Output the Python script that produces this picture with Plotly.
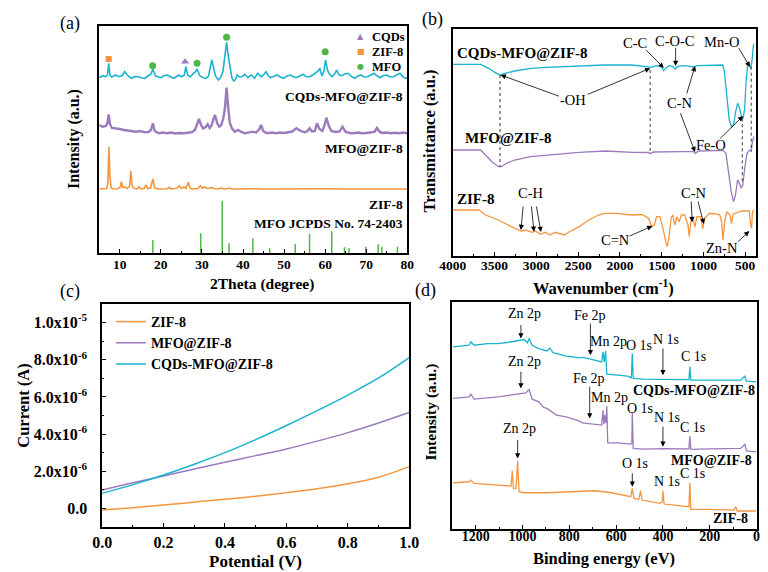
import plotly.graph_objects as go

SERIF = "Liberation Serif"
CYAN = "#1AB3CF"
PURPLE = "#9B7BBE"
ORANGE = "#F5953F"
GREEN = "#4DB848"

# ---------------- (a) XRD ----------------
xrd_2theta_cqds = [5.0, 5.9, 6.6, 7.0, 7.3, 7.6, 8.0, 9.0, 9.8, 10.6, 11.2, 11.8, 12.4, 12.9, 13.6, 14.5, 15.3, 16.1, 16.8, 17.5,
                   18.05, 18.7, 19.4, 20.0, 20.8, 21.6, 22.4, 23.2, 23.8, 24.3, 25.1, 25.7, 26.1, 26.5, 27.2, 27.9, 28.4, 28.8,
                   29.4, 29.8, 30.4, 31.0, 31.6, 32.0, 32.4, 32.8, 33.3, 34.0, 34.6, 35.1, 35.6, 36.0, 36.4, 36.8, 37.3, 37.7,
                   38.1, 38.6, 39.1, 39.7, 40.5, 41.2, 42.0, 42.8, 43.6, 44.4, 45.0, 45.6, 46.2, 46.7, 47.5, 48.3, 49.1, 49.9,
                   50.7, 51.5, 52.2, 53.0, 53.8, 54.6, 55.4, 56.2, 57.0, 57.7, 58.3, 58.7, 59.2, 59.7, 60.1, 60.5, 60.9, 61.7,
                   62.3, 62.8, 63.4, 64.0, 64.8, 65.6, 66.4, 67.2, 68.0, 68.7, 69.5, 70.3, 71.1, 71.9, 72.7, 73.4, 74.2, 75.0,
                   75.8, 76.6, 77.4, 78.2, 79.0, 79.7, 80.0]
xrd_int_cqds = [175.3, 177.3, 176.3, 178, 189.7, 178, 176, 178, 176.3, 177.5, 181.3, 178, 176, 174.7, 176.5, 176.3, 175, 174.7, 177, 178.5,
                183.7, 177, 176, 175.3, 177.5, 178, 176, 174.7, 176.5, 178, 176.3, 178, 186.3, 178, 176, 179.7, 181, 184,
                178, 176.3, 175, 174.7, 177, 184, 193, 186, 177, 173, 176, 181.3, 195, 210.7, 197, 185, 175, 172,
                173, 178, 176, 176.3, 178.7, 175.3, 178, 174.7, 179.7, 176.3, 178, 181.3, 177, 175.3, 177, 178, 176, 174.7,
                177, 178, 176.5, 175.3, 177, 178.7, 176.3, 176.3, 178, 179.7, 182, 184.7, 177, 182, 193, 184, 179.7, 176.3,
                179, 183, 178, 177.3, 179, 179.7, 176.5, 174.7, 177, 178, 176, 176.3, 178, 179.7, 177, 175.3, 177.5, 178,
                176, 176.3, 178, 179.7, 176, 174.7, 175]

xrd_2theta_mfo = [5.0, 5.8, 6.6, 7.0, 7.3, 7.6, 8.1, 9.0, 10.0, 11.0, 12.0, 13.0, 14.0, 15.0, 16.0, 17.0, 17.6, 18.05, 18.5, 19.5,
                  20.5, 21.5, 22.5, 23.5, 24.5, 25.5, 26.5, 27.5, 28.3, 28.8, 29.3, 29.8, 30.3, 30.9, 31.4, 31.9, 32.4, 32.8,
                  33.2, 33.7, 34.2, 34.7, 35.2, 35.6, 36.0, 36.4, 36.8, 37.3, 38.0, 38.8, 39.6, 40.5, 41.5, 42.3, 43.2, 44.0,
                  44.4, 44.9, 45.8, 47.0, 48.0, 49.0, 50.0, 51.0, 52.0, 53.0, 54.0, 55.0, 55.7, 56.2, 56.8, 57.5, 58.0, 58.6,
                  59.3, 59.8, 60.3, 60.8, 61.5, 62.5, 63.5, 64.2, 65.0, 66.0, 67.0, 68.0, 69.0, 70.0, 71.0, 72.0, 72.6, 73.3,
                  74.0, 75.0, 76.0, 77.0, 78.0, 79.0, 80.0]
xrd_int_mfo = [128, 126.3, 127, 130, 138.7, 129, 125, 124.7, 124, 123, 122.5, 122, 121.3, 122, 120.7, 121, 123, 129.7, 122, 119.7,
               120.5, 119.7, 120.5, 119.5, 120, 119.7, 120.5, 120.7, 123, 128, 134, 128, 124.7, 126, 128.7, 125, 128, 134,
               138, 130, 126.3, 128, 134.7, 145, 165.3, 145, 130, 124.7, 121.3, 123, 121, 119.7, 120.5, 121.3, 120.5, 124,
               128, 122, 119.7, 120.5, 119.7, 120.5, 120, 121, 121.5, 124.7, 122, 120.7, 122, 124.7, 121.5, 122, 129.7, 124,
               122, 127, 135.3, 128, 122, 121, 121.5, 126.3, 121, 120, 119.7, 120.5, 119.7, 120, 120.5, 121, 125, 121,
               120, 120.5, 119.7, 120.3, 119.7, 120.5, 119.7]

xrd_2theta_zif = [5.0, 6.0, 6.8, 7.1, 7.35, 7.6, 7.9, 8.5, 9.5, 10.1, 10.4, 10.7, 11.2, 11.8, 12.4, 12.7, 13.0, 13.6, 14.3, 14.7,
                  15.1, 15.9, 16.4, 16.8, 17.5, 18.05, 18.5, 19.5, 20.5, 21.5, 22.1, 22.6, 23.5, 24.0, 24.5, 25.0, 25.6, 26.1,
                  26.7, 27.2, 28.0, 29.0, 29.6, 30.1, 30.6, 31.2, 31.8, 32.4, 33.0, 34.0, 34.7, 35.4, 36.0, 36.7, 37.5, 39.0,
                  41.0, 43.0, 45.0, 50.0, 55.0, 60.0, 65.0, 70.0, 75.0, 80.0]
xrd_int_zif = [64, 64, 64.5, 70, 106.3, 76, 65, 64, 64.3, 66, 71.3, 65.5, 66, 64.5, 67, 82, 67, 64.5, 64, 66.3,
               64, 64.5, 68, 64.5, 65, 74, 65, 64, 64, 64.3, 65.5, 64, 64.5, 65, 67.3, 64.5, 66, 64.5,
               70.7, 64.5, 64, 64.5, 67.3, 64.8, 66, 64.5, 65, 65.5, 64.3, 64, 65, 64, 64.2, 65, 64, 64.2,
               64, 64.3, 64, 64.2, 64, 64.3, 64, 64.2, 64, 64]

jcpds_2theta = [18.05, 29.7, 34.95, 36.6, 42.4, 46.5, 52.7, 56.2, 61.6, 64.7, 65.8, 69.9, 72.9, 73.8, 77.6]
jcpds_int = [13, 19.7, 52.3, 9.7, 14.7, 4.7, 9, 19, 21.7, 5.7, 4.7, 6.3, 8.7, 6.3, 6.3]

peak_zif_2theta = [7.3]
peak_zif_int = [194]
peak_cqds_2theta = [25.9]
peak_cqds_int = [191.3]
peak_mfo_2theta = [18.0, 28.8, 36.0, 60.0]
peak_mfo_int = [187.3, 189.7, 215.7, 201.3]

# ---------------- (b) FTIR ----------------
ftir_wn_cqds = [4000, 3667, 3571, 3493, 3435, 3377, 3261, 3069, 2875, 2489, 2179, 1851, 1657, 1619, 1561, 1503, 1476, 1445,
                1406, 1367, 1336, 1310, 1232, 1116, 1078, 923, 768, 749, 722, 691, 664, 640, 614, 591, 567, 544, 525, 506,
                490, 471, 448, 436, 420, 401, 390]
ftir_t_cqds = [191.7, 191.7, 187.7, 183.3, 181, 182.7, 185, 187.7, 188.7, 190.3, 191, 191, 189.3, 188.7, 190.3, 189.3, 185.3, 188.3,
               190.3, 189.5, 187, 189.7, 190.3, 189, 190.3, 191, 191, 184.3, 157.7, 136, 129.3, 131, 144.3, 152.7, 147.7, 139.3, 137.7, 147.7,
               174.3, 190.3, 191, 187.7, 194.3, 211, 211]

ftir_wn_mfo = [4000, 3667, 3609, 3532, 3455, 3416, 3359, 3261, 3069, 2875, 2489, 2179, 2044, 1851, 1657, 1638, 1599, 1469,
               1271, 1116, 1097, 1058, 768, 730, 699, 668, 640, 617, 591, 576, 548, 529, 506, 478, 448, 428, 413, 397]
ftir_t_mfo = [106, 106, 101, 94.3, 89.3, 89.3, 92.7, 96, 99.3, 101, 103.7, 105, 104.3, 103.7, 103.5, 102.3, 104, 104.3,
              104.3, 104.3, 102.7, 105, 105.7, 102.7, 84.3, 64.3, 54.3, 61, 76, 74.3, 67.7, 71, 87.7, 102.7, 106, 105, 114.3, 119.3]

ftir_wn_zif = [4000, 3687, 3609, 3455, 3301, 3185, 3127, 3049, 3011, 2953, 2895, 2837, 2779, 2721, 2663, 2605, 2489, 2373,
               2257, 2179, 2044, 1851, 1735, 1657, 1619, 1588, 1561, 1522, 1484, 1452, 1433, 1414, 1387, 1367, 1341, 1318,
               1290, 1263, 1225, 1185, 1170, 1150, 1124, 1101, 1078, 1031, 1008, 985, 923, 807, 784, 765, 745, 722, 683,
               664, 645, 536, 451, 436, 424, 413, 394]
ftir_t_zif = [46, 46, 41, 36, 29.3, 25, 26, 23.7, 25, 21.7, 23.7, 21, 23.7, 22.7, 21, 24.3, 29.3, 36,
              41, 42.7, 42.7, 41, 41.5, 37.7, 29.3, 31, 39.3, 39.3, 27.7, 14.3, 9.3, 17.7, 37.7, 41, 31, 39.3,
              34.3, 41, 41, 31, 19.3, 35, 36, 29.3, 39.3, 39.3, 27, 38, 42.7, 41.5, 35, 16, 35, 44.3, 41,
              32.7, 42, 45, 45, 31, 27.7, 44.3, 46]

ftir_guide_wn = [3435, 1638, 535, 428]
ftir_guide_top = [181, 186, 137.7, 189.3]
ftir_guide_bottom = [89.3, 102.7, 74.3, 104.3]

# ---------------- (c) I-V ----------------
iv_potential = [0.0, 0.1, 0.2, 0.3, 0.4, 0.5, 0.6, 0.7, 0.8, 0.9, 1.0]
iv_zif = [-0.09e-6, 0.04e-6, 0.18e-6, 0.34e-6, 0.49e-6, 0.66e-6, 0.85e-6, 1.06e-6, 1.33e-6, 1.68e-6, 2.25e-6]
iv_mfo = [0.99e-6, 1.38e-6, 1.74e-6, 2.12e-6, 2.48e-6, 2.84e-6, 3.20e-6, 3.62e-6, 4.08e-6, 4.60e-6, 5.16e-6]
iv_cqds = [0.81e-6, 1.28e-6, 1.80e-6, 2.38e-6, 3.00e-6, 3.70e-6, 4.46e-6, 5.26e-6, 6.10e-6, 7.02e-6, 8.12e-6]
iv_ticks = [0, 2e-6, 4e-6, 6e-6, 8e-6, 1e-5]
iv_ticktext = ["0.0", "2.0x10<sup>-6</sup>", "4.0x10<sup>-6</sup>", "6.0x10<sup>-6</sup>", "8.0x10<sup>-6</sup>", "1.0x10<sup>-5</sup>"]
iv_minor = [-1e-6, 1e-6, 3e-6, 5e-6, 7e-6, 9e-6, 1.1e-5]

# ---------------- (d) XPS ----------------
xps_ev_cqds = [1297, 1260, 1228, 1221, 1207, 1150, 1104, 1060, 1034, 1010, 993, 979, 972, 959, 931, 896, 883, 870, 855, 814,
               790, 759, 740, 717, 689, 662, 656, 651, 645, 640, 593, 551, 535, 531, 527, 482, 420, 344, 289, 285, 281,
               200, 120, 68, 50, 43, 2]
xps_i_cqds = [182.3, 183.5, 184, 187.3, 184, 185.7, 185.7, 187, 188, 188.8, 189.7, 186.5, 190.7, 184, 180.7, 178.3, 181.3, 176.5, 175.7, 173,
              172.5, 171.3, 171.8, 170.3, 169, 167.3, 177.3, 167.3, 178.3, 155, 154, 153, 151.5, 175.7, 150.7, 150, 149.8, 149.7, 149.5, 162.3, 149,
              149, 148.8, 149, 153, 148, 147.3]

xps_ev_mfo = [1297, 1228, 1221, 1207, 1104, 1034, 986, 972, 959, 931, 910, 896, 869, 855, 814, 759, 745, 717, 676, 662,
              656, 653, 648, 644, 640, 636, 593, 538, 533, 531, 527, 482, 400, 344, 289, 285, 281, 200, 120, 68,
              50, 43, 2]
xps_i_mfo = [130.7, 132.3, 135, 130, 132.3, 135, 136.3, 139.7, 130, 127.3, 121.7, 120.7, 115.7, 114, 112.3, 108.3, 106.3, 105.7, 105, 104,
             119, 105, 114, 106, 123, 86.3, 86.3, 85, 86, 116.3, 80.7, 80, 80.5, 80.7, 80.2, 93, 79.7, 80.2, 80.4, 80.7,
             84.7, 78.3, 77.3]

xps_ev_zif = [1297, 1228, 1221, 1207, 1104, 1049, 1044, 1039, 1028, 1021, 1015, 993, 896, 759, 689, 620, 565, 538, 531, 524,
              503, 496, 489, 455, 413, 403, 400, 395, 344, 289, 285, 281, 206, 96, 89, 82, 2]
xps_i_zif = [46.3, 47.3, 49, 45.7, 44, 43, 58.3, 40.7, 40.7, 68, 37.3, 36.3, 36.3, 37.3, 38.3, 36.3, 34, 32.3, 40.7, 30.7,
             29.7, 38.3, 29, 27.3, 25.7, 27.3, 38.3, 25, 24, 22.3, 46.3, 19.7, 19.7, 19, 22.3, 18, 18]

W, H = 768, 572


def paper(x, y):
    return x / W, 1 - y / H


fig = go.Figure()

# (a) traces
fig.add_trace(go.Scatter(x=xrd_2theta_zif, y=xrd_int_zif, mode="lines", line=dict(color=ORANGE, width=1.6),
                         xaxis="x", yaxis="y", showlegend=False))
fig.add_trace(go.Scatter(x=xrd_2theta_mfo, y=xrd_int_mfo, mode="lines", line=dict(color=PURPLE, width=2.4),
                         xaxis="x", yaxis="y", showlegend=False))
fig.add_trace(go.Scatter(x=xrd_2theta_cqds, y=xrd_int_cqds, mode="lines", line=dict(color=CYAN, width=1.6),
                         xaxis="x", yaxis="y", showlegend=False))
stick_x, stick_y = [], []
for p, h in zip(jcpds_2theta, jcpds_int):
    stick_x += [p, p, None]
    stick_y += [0, h, None]
fig.add_trace(go.Scatter(x=stick_x, y=stick_y, mode="lines", line=dict(color=GREEN, width=1.5),
                         xaxis="x", yaxis="y", showlegend=False))
fig.add_trace(go.Scatter(x=peak_cqds_2theta, y=peak_cqds_int, mode="markers", name="CQDs",
                         marker=dict(symbol="triangle-up", color=PURPLE, size=7), xaxis="x", yaxis="y", showlegend=False))
fig.add_trace(go.Scatter(x=peak_zif_2theta, y=peak_zif_int, mode="markers", name="ZIF-8",
                         marker=dict(symbol="square", color=ORANGE, size=6), xaxis="x", yaxis="y", showlegend=False))
fig.add_trace(go.Scatter(x=peak_mfo_2theta, y=peak_mfo_int, mode="markers", name="MFO",
                         marker=dict(symbol="circle", color=GREEN, size=7), xaxis="x", yaxis="y", showlegend=False))

# (b) traces
fig.add_trace(go.Scatter(x=ftir_wn_zif, y=ftir_t_zif, mode="lines", line=dict(color=ORANGE, width=1.3),
                         xaxis="x2", yaxis="y2", showlegend=False))
fig.add_trace(go.Scatter(x=ftir_wn_mfo, y=ftir_t_mfo, mode="lines", line=dict(color=PURPLE, width=1.3),
                         xaxis="x2", yaxis="y2", showlegend=False))
fig.add_trace(go.Scatter(x=ftir_wn_cqds, y=ftir_t_cqds, mode="lines", line=dict(color=CYAN, width=1.3),
                         xaxis="x2", yaxis="y2", showlegend=False))
gx, gy = [], []
for w, t, b in zip(ftir_guide_wn, ftir_guide_top, ftir_guide_bottom):
    gx += [w, w, None]
    gy += [t, b, None]
fig.add_trace(go.Scatter(x=gx, y=gy, mode="lines", line=dict(color="black", width=0.8, dash="dot"),
                         xaxis="x2", yaxis="y2", showlegend=False))

# (c) traces
fig.add_trace(go.Scatter(x=iv_potential, y=iv_zif, mode="lines", name="ZIF-8", line=dict(color=ORANGE, width=1.5, shape="spline"),
                         xaxis="x3", yaxis="y3"))
fig.add_trace(go.Scatter(x=iv_potential, y=iv_mfo, mode="lines", name="MFO@ZIF-8", line=dict(color=PURPLE, width=1.5, shape="spline"),
                         xaxis="x3", yaxis="y3"))
fig.add_trace(go.Scatter(x=iv_potential, y=iv_cqds, mode="lines", name="CQDs-MFO@ZIF-8", line=dict(color=CYAN, width=1.5, shape="spline"),
                         xaxis="x3", yaxis="y3"))

# (d) traces
fig.add_trace(go.Scatter(x=xps_ev_zif, y=xps_i_zif, mode="lines", line=dict(color=ORANGE, width=1.3),
                         xaxis="x4", yaxis="y4", showlegend=False))
fig.add_trace(go.Scatter(x=xps_ev_mfo, y=xps_i_mfo, mode="lines", line=dict(color=PURPLE, width=1.3),
                         xaxis="x4", yaxis="y4", showlegend=False))
fig.add_trace(go.Scatter(x=xps_ev_cqds, y=xps_i_cqds, mode="lines", line=dict(color=CYAN, width=1.3),
                         xaxis="x4", yaxis="y4", showlegend=False))


def tfont(size):
    return dict(family=SERIF, size=size, color="black", weight="bold")


def xax(domain, anchor, rng, dtick, minor_dtick, size, standoff, **kw):
    d = dict(domain=domain, anchor=anchor, range=rng, showline=True, linecolor="black", linewidth=1.6, mirror=True,
             ticks="inside", ticklen=4, tickwidth=1.2, tickcolor="black", showgrid=False, zeroline=False,
             tick0=0, dtick=dtick, tickfont=tfont(size), ticklabelstandoff=standoff,
             minor=dict(dtick=minor_dtick, ticks="inside", ticklen=2.5, tickwidth=1, tickcolor="black", showgrid=False))
    d.update(kw)
    return d


def yax_plain(domain, anchor, rng):
    return dict(domain=domain, anchor=anchor, range=rng, showline=True, linecolor="black", linewidth=1.6, mirror=True,
                ticks="", showticklabels=False, showgrid=False, zeroline=False)


ann = []


def text(t, x, y, size, bold=False, xanchor="center", xref="paper", yref="paper", angle=0):
    ann.append(dict(text=t, x=x, y=y, xref=xref, yref=yref, xanchor=xanchor, yanchor="middle", showarrow=False,
                    textangle=angle,
                    font=dict(family=SERIF, size=size, color="black", weight="bold" if bold else "normal")))


def ptext(t, px, py, size, bold=False, angle=0):
    x, y = paper(px, py)
    text(t, x, y, size, bold, angle=angle)


def arrow(ax_, ay_, x, y, xref, yref):
    ann.append(dict(text="", x=x, y=y, ax=ax_, ay=ay_, xref=xref, yref=yref, axref=xref, ayref=yref,
                    showarrow=True, arrowhead=2, arrowsize=1.3, arrowwidth=0.8, arrowcolor="black"))


# panel labels
ptext("(a)", 57.5, 23, 18)
ptext("(b)", 432, 19, 18)
ptext("(c)", 57.5, 291, 18)
ptext("(d)", 425, 290, 18)

# axis titles
ptext("2Theta (degree)", 256, 284, 15.5, True)
ptext("Intensity (a.u.)", 62, 139, 16, True, angle=-90)
ptext("Wavenumber (cm<sup>-1</sup>)", 609, 287, 16.5, True)
ptext("Transmittance (a.u.)", 429, 141, 16.5, True, angle=-90)
ptext("Potential (V)", 249, 561, 17, True)
ptext("Current (A)", 9, 406, 16.5, True, angle=-90)
ptext("Binding energy (eV)", 609, 558, 16.5, True)
ptext("Intensity (a.u.)", 430, 412, 15.5, True, angle=-90)

# (a) labels
for t, y in [("CQDs-MFO@ZIF-8", 156.8), ("MFO@ZIF-8", 104), ("ZIF-8", 48), ("MFO JCPDS No. 74-2403", 29.7)]:
    text(t, 79.4, y, 13.5, True, xanchor="right", xref="x", yref="y")
# (a) legend
for glyph, col, lab, y in [("▲", PURPLE, "CQDs", 216.3), ("■", ORANGE, "ZIF-8", 201.3), ("●", GREEN, "MFO", 186.3)]:
    ann.append(dict(text=glyph, x=68.7, y=y, xref="x", yref="y", xanchor="center", yanchor="middle", showarrow=False,
                    font=dict(family="DejaVu Sans", size=8, color=col)))
    text(lab, 70.9, y, 12.5, True, xanchor="left", xref="x", yref="y")

# (b) labels
for t, x, y in [("CQDs-MFO@ZIF-8", 3969, 202.7), ("MFO@ZIF-8", 3884, 117.7), ("ZIF-8", 3977, 56.7)]:
    text(t, x, y, 15, True, xanchor="left", xref="x2", yref="y2")
for t, x, y in [("-OH", 2558, 156), ("C-C", 1823, 212.7), ("C-O-C", 1341, 215.3), ("Mn-O", 780, 214.3),
                ("C-N", 1283, 152.7), ("Fe-O", 915, 111), ("C-H", 3061, 63.3), ("C=N", 2055, 16),
                ("C-N", 1109, 63.3), ("Zn-N", 780, 7.7)]:
    text(t, x, y, 14.5, False, xref="x2", yref="y2")
for a in [(2713, 159.3, 3428, 181), (2403, 161, 1638, 187.7), (1707, 207.7, 1475, 188), (1333, 209.3, 1333, 190),
          (587, 209.3, 443, 189), (1205, 161, 1100, 190), (1283, 144.3, 1100, 104), (819, 116, 525, 140),
          (3157, 51, 3185, 26), (3061, 51, 3029, 24.3), (3003, 51, 2945, 24), (1901, 19.3, 1611, 30),
          (1147, 56, 1135, 34), (1069, 56, 995, 32), (606, 12.7, 451, 25)]:
    arrow(a[0], a[1], a[2], a[3], "x2", "y2")

# (d) labels
for t, x, y in [("Zn 2p", 993, 215.7), ("Fe 2p", 710, 214), ("Mn 2p", 634, 187.3), ("O 1s", 503, 184),
                ("N 1s", 386, 189.7), ("C 1s", 268, 173), ("Zn 2p", 993, 167.3), ("Fe 2p", 714, 150.7),
                ("Mn 2p", 630, 131.7), ("O 1s", 499, 120.7), ("N 1s", 383, 111.7), ("C 1s", 272, 101.7),
                ("Zn 2p", 1014, 100.7), ("O 1s", 521, 65.7), ("N 1s", 383, 47.3), ("C 1s", 272, 55.7)]:
    text(t, x, y, 14, False, xref="x4", yref="y4")
for t, x, y in [("CQDs-MFO@ZIF-8", 268, 138.3), ("MFO@ZIF-8", 193, 68.3), ("ZIF-8", 110, 10.7)]:
    text(t, x, y, 14, True, xref="x4", yref="y4")
for a in [(1007, 205.7, 1007, 190.7), (710, 207.3, 710, 174), (400, 182.3, 400, 154), (1007, 159, 1007, 140.7),
          (713, 144, 713, 110.7), (400, 104, 400, 82.3), (1021, 90.7, 1021, 70.7), (531, 57.3, 531, 42.3)]:
    arrow(a[0], a[1], a[2], a[3], "x4", "y4")

fig.update_layout(
    width=W, height=H, margin=dict(l=0, r=0, t=0, b=0),
    paper_bgcolor="white", plot_bgcolor="white",
    font=dict(family=SERIF, color="black"),
    xaxis=xax([88 / W, 406 / W], "y", [5, 80], 10, 5, 13.5, -2),
    yaxis=yax_plain([1 - 253 / H, 1 - 26 / H], "x", [0, 227]),
    xaxis2=xax([453 / W, 766 / W], "y2", [4000, 370], 500, 250, 13.5, -4),
    yaxis2=yax_plain([1 - 256 / H, 1 - 29 / H], "x2", [0, 227]),
    xaxis3=xax([91 / W, 408 / W], "y3", [0, 1.0], 0.2, 0.1, 16, 0, tickformat=".1f"),
    yaxis3=dict(domain=[1 - 527 / H, 1 - 304 / H], anchor="x3", range=[-1e-6, 1.1e-5], showline=True, linecolor="black",
                linewidth=1.6, mirror=True, ticks="inside", ticklen=4, tickwidth=1.2, tickcolor="black", showgrid=False,
                zeroline=False, tickmode="array", tickvals=iv_ticks, ticktext=iv_ticktext, tickfont=tfont(16),
                ticklabelstandoff=10,
                minor=dict(tickvals=iv_minor, ticks="inside", ticklen=2.5, tickwidth=1, tickcolor="black", showgrid=False)),
    xaxis4=xax([452.5 / W, 766.5 / W], "y4", [1300, 0], 200, 100, 14, -7),
    yaxis4=yax_plain([1 - 529 / H, 1 - 302 / H], "x4", [0, 227.3]),
    showlegend=True,
    legend=dict(x=100 / W, y=1 - 306 / H, xanchor="left", yanchor="top", bgcolor="rgba(0,0,0,0)",
                font=dict(family=SERIF, size=14, color="black", weight="bold"), itemwidth=30),
    annotations=ann,
)

fig.write_html("out.html", config={"displayModeBar": False},
               post_script="document.body.style.margin='0';document.body.style.overflow='hidden';")
